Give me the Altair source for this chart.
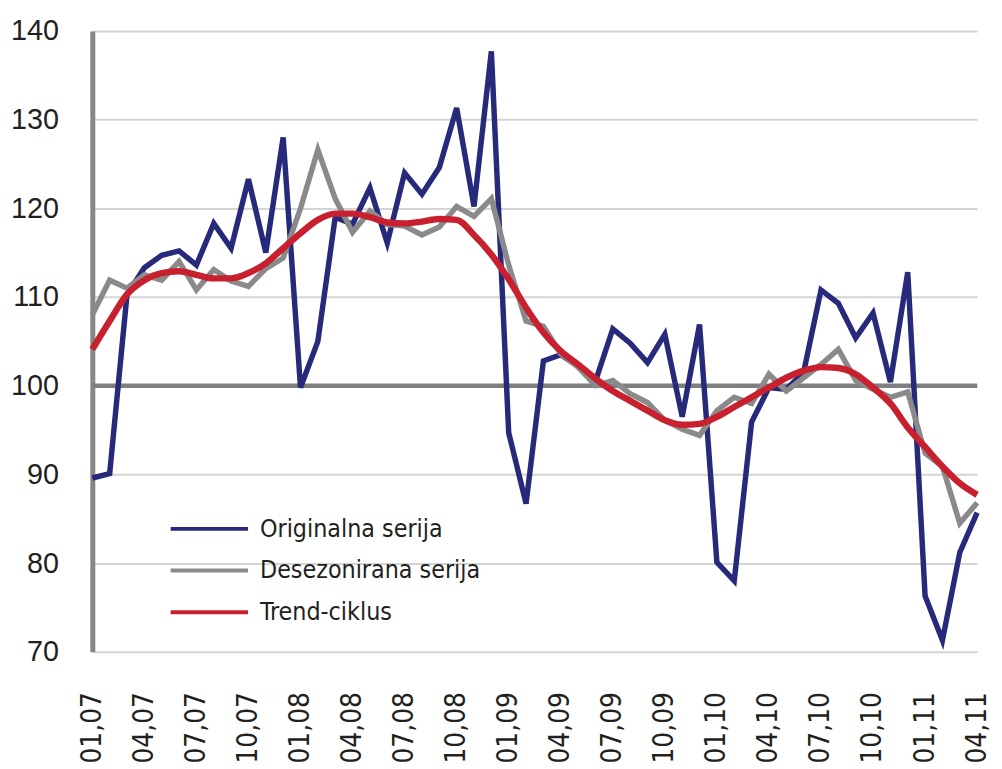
import altair as alt
import pandas as pd

# Month categories 01,07 ... 04,11
months = [f"{m:02d},{y:02d}" for y in range(7, 12) for m in range(1, 13)][:52]
tick_labels = months[::3]

original = [89.6, 90.1, 110.3, 113.3, 114.7, 115.2, 113.6, 118.3, 115.5, 123.3,
            115.0, 128.0, 99.8, 105.0, 119.0, 118.2, 122.3, 116.1, 124.0, 121.6,
            124.6, 131.3, 120.2, 137.7, 94.7, 86.7, 102.8, 103.5, 102.2, 100.5,
            106.4, 104.8, 102.6, 105.8, 96.5, 106.9, 80.1, 78.0, 95.9, 99.8,
            99.6, 101.5, 110.8, 109.3, 105.4, 108.2, 100.4, 112.8, 76.3, 71.3,
            81.2, 85.7]

desez = [108.0, 111.9, 111.0, 112.5, 111.9, 114.0, 110.8, 113.1, 111.8, 111.2,
         113.2, 114.4, 120.0, 126.6, 121.1, 117.3, 119.7, 118.2, 118.0, 117.0,
         117.9, 120.2, 119.1, 121.1, 113.6, 107.3, 106.7, 103.6, 102.1, 100.0,
         100.6, 99.1, 98.1, 96.1, 95.1, 94.4, 97.2, 98.7, 98.0, 101.3,
         99.4, 100.9, 102.4, 104.1, 100.6, 99.6, 98.7, 99.3, 92.4, 90.9,
         84.5, 86.8]

trend = [104.1, 107.3, 110.3, 111.9, 112.7, 112.9, 112.5, 112.1, 112.1, 112.7,
         113.8, 115.5, 117.2, 118.7, 119.4, 119.4, 119.0, 118.4, 118.3, 118.5,
         118.8, 118.7, 117.0, 114.8, 112.0, 108.8, 106.0, 103.9, 102.4, 100.8,
         99.4, 98.3, 97.2, 96.1, 95.6, 95.7, 96.5, 97.6, 98.7, 99.8,
         100.9, 101.7, 102.1, 102.0, 101.3, 99.8, 98.0, 95.3, 93.1, 90.9,
         89.0, 87.7]

series_names = ["Originalna serija", "Desezonirana serija", "Trend-ciklus"]
series_colors = ["#272a7a", "#8a8a8a", "#c8202e"]
y_ticks = [70, 80, 90, 100, 110, 120, 130, 140]
reference_level = [100]

rows = []
for name, vals in zip(series_names, [original, desez, trend]):
    for m, v in zip(months, vals):
        rows.append({"month": m, "value": v, "series": name})
df = pd.DataFrame(rows)
base_df = pd.DataFrame({"value": reference_level})

LABEL_FONT = "Liberation Sans, Arial, sans-serif"
SMALL_FONT = "DejaVu Sans Condensed, sans-serif"
TXT = "#231f20"

x_enc = alt.X(
    "month:O", sort=months,
    scale=alt.Scale(type="point", padding=0),
    axis=alt.Axis(values=tick_labels, labelAngle=-90, title=None, domain=False,
                  ticks=False, grid=False, labelPadding=40, labelFont=SMALL_FONT,
                  labelFontSize=28, labelColor=TXT),
)
y_scale = alt.Scale(domain=[70, 140], nice=False, zero=False)
y_enc = alt.Y(
    "value:Q", scale=y_scale,
    axis=alt.Axis(values=y_ticks, title=None, grid=True, gridColor="#d4d4d4",
                  gridWidth=2, domain=True, domainColor="#868686", domainWidth=5,
                  ticks=False, labelPadding=34, labelFont=LABEL_FONT,
                  labelFontSize=29, labelColor=TXT),
)
color_enc = alt.Color(
    "series:N", sort=series_names,
    scale=alt.Scale(domain=series_names, range=series_colors),
    legend=alt.Legend(title=None, orient="none", legendX=77, legendY=487,
                      symbolType="stroke", symbolSize=6084, symbolStrokeWidth=4,
                      labelFont=SMALL_FONT, labelFontSize=25, labelColor=TXT,
                      labelOffset=10, clipHeight=30, rowPadding=12, labelLimit=400),
)

rule = alt.Chart(base_df).mark_rule(color="#7f7f7f", strokeWidth=4.5).encode(
    y=alt.Y("value:Q", scale=y_scale)
)

raw_lines = alt.Chart(df).transform_filter(
    alt.datum.series != "Trend-ciklus"
).mark_line(strokeWidth=5.5).encode(x=x_enc, y=y_enc, color=color_enc)

trend_line = alt.Chart(df).transform_filter(
    alt.datum.series == "Trend-ciklus"
).mark_line(strokeWidth=6.5, interpolate="monotone").encode(x=x_enc, y=y_enc, color=color_enc)

chart = alt.layer(rule, raw_lines, trend_line).properties(
    width=892, height=626,
    autosize=alt.AutoSizeParams(type="none"),
    padding={"left": 85, "top": 20, "right": 17, "bottom": 115},
    background="white",
).configure_view(stroke=None)

chart.save("out.html", embed_options={"renderer": "svg", "actions": False})
